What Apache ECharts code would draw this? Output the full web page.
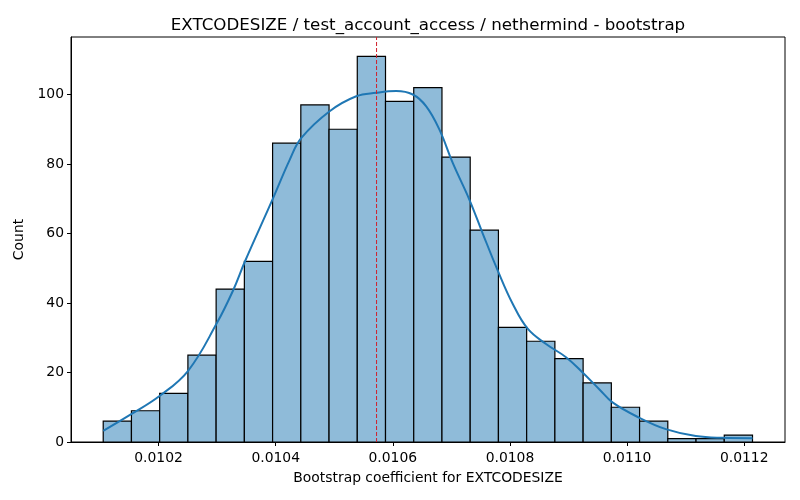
<!DOCTYPE html>
<html>
<head>
<meta charset="utf-8">
<script src="https://cdn.jsdelivr.net/npm/echarts@6/dist/echarts.min.js"></script>
<style>html,body{margin:0;padding:0;background:#fff}#c{width:800px;height:500px}</style>
</head>
<body>
<div id="c"></div>
<script>
const titleText = 'EXTCODESIZE / test_account_access / nethermind - bootstrap';
const xLabel = 'Bootstrap coefficient for EXTCODESIZE';
const yLabel = 'Count';
const binEdges = [0.0101055, 0.0101537, 0.0102019, 0.0102501, 0.0102983, 0.0103465, 0.0103947, 0.0104429,
  0.0104911, 0.0105393, 0.0105875, 0.0106357, 0.0106839, 0.0107321, 0.0107803, 0.0108285, 0.0108767,
  0.0109249, 0.0109731, 0.0110213, 0.0110695, 0.0111177, 0.0111659, 0.0112141];
const counts = [6, 9, 14, 25, 44, 52, 86, 97, 90, 111, 98, 102, 82, 61, 33, 29, 24, 17, 10, 6, 1, 1, 2];
const kdeX = [0.0101055, 0.0101533, 0.0102022, 0.0102505, 0.0102989, 0.0103272, 0.0103471, 0.0103954,
  0.0104239, 0.0104438, 0.0104921, 0.0105376, 0.0105717, 0.0106058, 0.0106341, 0.0106570, 0.0106796,
  0.0107023, 0.0107308, 0.0107535, 0.0107790, 0.0108046, 0.0108302, 0.0108616, 0.0108957, 0.0109240,
  0.0109524, 0.0109751, 0.0110206, 0.0110662, 0.0111173, 0.0111627, 0.0112142];
const kdeY = [3.2, 8.0, 13.3, 20.5, 34.0, 43.6, 51.8, 70.1, 81.2, 87.5, 95.2, 99.5, 100.5, 101.0, 100.0,
  96.6, 89.9, 80.3, 69.7, 60.0, 49.4, 39.8, 32.6, 28.2, 24.4, 20.0, 15.2, 11.4, 7.0, 3.7, 1.7, 1.2, 1.1];
const meanLine = 0.0105722;
const xTicks = [0.0102, 0.0104, 0.0106, 0.0108, 0.0110, 0.0112];
const yTicks = [0, 20, 40, 60, 80, 100];
const xMin = 0.0100505, xMax = 0.0112696, yMax = 116.55;

const font = 'DejaVu Sans';
const histData = counts.map((c, i) => [binEdges[i], binEdges[i + 1], c]);
const kdeData = kdeX.map((x, i) => [x, kdeY[i]]);
const meanData = [[meanLine, 0], [meanLine, yMax]];

const chart = echarts.init(document.getElementById('c'));
chart.setOption({
  animation: false,
  title: {
    text: titleText, left: 423, top: 12, textAlign: 'center',
    textStyle: { fontFamily: font, fontSize: 16.7, fontWeight: 'normal', color: '#000' }
  },
  grid: { left: 71, right: 15, top: 37, bottom: 58, show: true, borderColor: '#000', borderWidth: 1, backgroundColor: 'transparent' },
  xAxis: {
    type: 'value', min: xMin, max: xMax,
    name: xLabel, nameLocation: 'middle', nameGap: 29,
    nameTextStyle: { fontFamily: font, fontSize: 13.9, color: '#000' },
    axisLine: { show: true, lineStyle: { color: '#000', width: 1 } },
    axisTick: { show: true, length: 4, customValues: xTicks, lineStyle: { color: '#000' } },
    axisLabel: { customValues: xTicks, margin: 9, fontFamily: font, fontSize: 13.9, color: '#000',
      formatter: v => v.toFixed(4) },
    splitLine: { show: false }
  },
  yAxis: {
    type: 'value', min: 0, max: yMax,
    name: yLabel, nameLocation: 'middle', nameGap: 37,
    nameTextStyle: { fontFamily: font, fontSize: 13.9, color: '#000' },
    axisLine: { show: true, lineStyle: { color: '#000', width: 1 } },
    axisTick: { show: true, length: 4, customValues: yTicks, lineStyle: { color: '#000' } },
    axisLabel: { customValues: yTicks, margin: 7, fontFamily: font, fontSize: 13.9, color: '#000' },
    splitLine: { show: false }
  },
  series: [
    {
      type: 'custom',
      data: histData,
      encode: { x: [0, 1], y: 2 },
      renderItem: function (params, api) {
        const p0 = api.coord([api.value(0), api.value(2)]);
        const p1 = api.coord([api.value(1), 0]);
        return {
          type: 'rect',
          shape: { x: p0[0], y: p0[1], width: p1[0] - p0[0], height: p1[1] - p0[1] },
          style: { fill: '#8fbbd9', stroke: '#000', lineWidth: 1.2 }
        };
      },
      z: 2
    },
    {
      type: 'line',
      data: kdeData,
      smooth: 0.4,
      showSymbol: false,
      lineStyle: { color: '#1f77b4', width: 2 },
      z: 3
    },
    {
      type: 'line',
      data: meanData,
      showSymbol: false,
      silent: true,
      lineStyle: { color: '#d0202a', width: 1, type: [4, 2] },
      z: 4
    }
  ]
});
</script>
</body>
</html>
